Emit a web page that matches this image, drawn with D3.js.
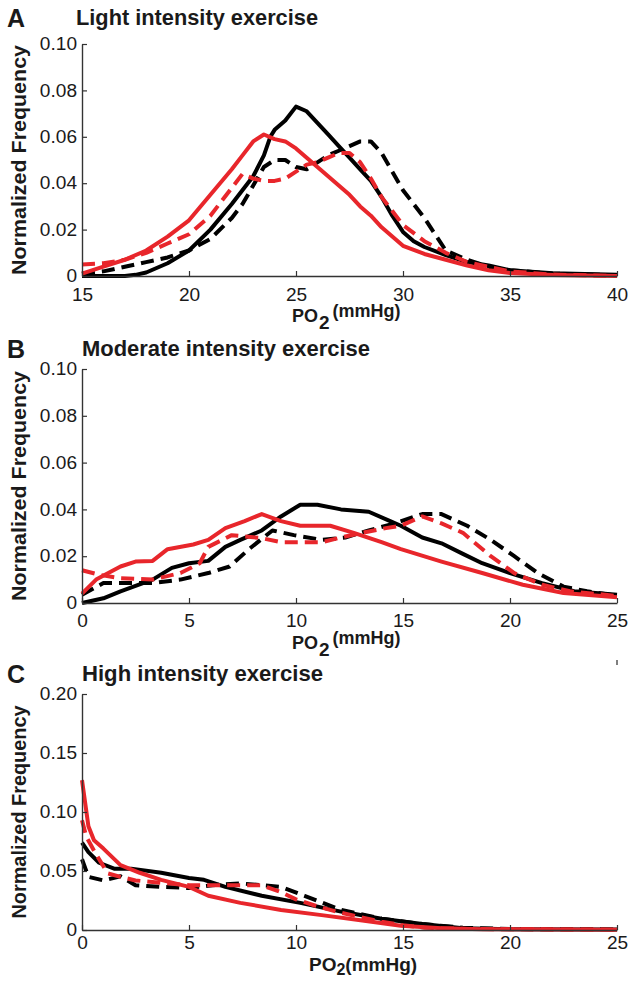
<!DOCTYPE html>
<meta charset="utf-8">
<style>
  body { margin: 0; background: #fff; }
  text { font-family: "Liberation Sans", Arial, sans-serif; fill: #1a1a1a; }
</style>
<svg width="630" height="988"></svg>
<script src="https://d3js.org/d3.v7.min.js"></script>
<script>

// ---- data ----
var lightBlackSolid = [[15,0],[17,0],[17.5,0.0005],[18,0.0015],[19,0.0055],[20,0.011],[21,0.02],[22,0.031],[23,0.043],[23.5,0.052],[23.8,0.060],[24,0.063],[24.5,0.067],[25,0.073],[25.5,0.071],[26,0.066],[26.5,0.061],[27,0.056],[27.5,0.051],[28,0.046],[28.5,0.041],[29,0.034],[29.5,0.026],[30,0.019],[30.5,0.015],[31,0.0125],[32,0.009],[33,0.006],[34,0.0045],[35,0.0025],[37,0.0012],[40,0.0005]];
var lightBlackDashed = [[15,0.001],[16,0.002],[17,0.004],[18,0.006],[19,0.008],[20,0.011],[21,0.016],[22,0.025],[22.5,0.031],[23,0.039],[23.5,0.047],[24,0.050],[24.5,0.050],[25,0.047],[25.5,0.046],[26,0.049],[26.5,0.052],[27,0.054],[27.5,0.056],[28,0.058],[28.5,0.058],[29,0.053],[29.5,0.045],[30,0.037],[30.5,0.031],[31,0.025],[31.5,0.018],[32,0.011],[33,0.007],[34,0.004],[35,0.0025],[37,0.001],[40,0.0003]];
var lightRedSolid = [[15,0.001],[16,0.004],[17,0.007],[18,0.011],[19,0.017],[20,0.024],[21,0.035],[22,0.046],[22.5,0.052],[23,0.058],[23.5,0.061],[24,0.059],[24.5,0.058],[25,0.055],[25.5,0.051],[26,0.047],[26.5,0.043],[27,0.039],[27.5,0.035],[28,0.030],[28.5,0.026],[29,0.021],[29.5,0.017],[30,0.013],[31,0.0095],[32,0.007],[33,0.0045],[34,0.0025],[35,0.0013],[37,0.0004],[40,0]];
var lightRedDashed = [[15,0.005],[16,0.0055],[17,0.007],[18,0.010],[19,0.014],[20,0.018],[21,0.026],[22,0.038],[22.5,0.044],[23,0.042],[23.5,0.041],[24,0.041],[24.5,0.042],[25,0.045],[25.5,0.048],[26,0.049],[26.5,0.051],[27,0.053],[27.5,0.053],[28,0.049],[28.5,0.042],[29,0.034],[29.5,0.028],[30,0.022],[31,0.015],[32,0.010],[33,0.006],[34,0.004],[35,0.002],[37,0.0006],[40,0]];

var modBlackSolid = [[0,0],[1,0.002],[1.8,0.005],[3.3,0.010],[4.2,0.015],[5,0.017],[5.9,0.018],[6.7,0.024],[7.4,0.027],[8.4,0.031],[9.3,0.037],[10.2,0.042],[11,0.042],[12.1,0.040],[13.4,0.039],[14.4,0.035],[14.9,0.033],[15.9,0.028],[16.8,0.0255],[17.8,0.021],[18.7,0.017],[20,0.0128],[21.5,0.0085],[23,0.005],[25,0.0035]];
var modBlackDashed = [[0,0.0035],[1,0.0085],[2,0.0085],[3.3,0.0085],[4.6,0.010],[5.9,0.0128],[6.9,0.0156],[7.8,0.023],[8.9,0.031],[9.9,0.029],[11.2,0.027],[12.3,0.028],[13.4,0.031],[14.6,0.034],[15.9,0.038],[16.8,0.038],[18,0.033],[19.1,0.027],[20.2,0.020],[21.3,0.0128],[22.5,0.007],[23.6,0.005],[25,0.003]];
var modRedSolid = [[0,0.004],[0.66,0.010],[1.8,0.0156],[2.5,0.0177],[3.3,0.018],[4,0.023],[5.2,0.025],[5.9,0.027],[6.7,0.032],[7.6,0.035],[8.4,0.038],[9.3,0.035],[10.2,0.033],[11.6,0.033],[12.7,0.030],[14,0.026],[14.9,0.023],[16.8,0.0177],[18.7,0.0128],[20.6,0.0078],[22.5,0.0043],[25,0.0025]];
var modRedDashed = [[0,0.014],[0.85,0.012],[1.8,0.0106],[3.3,0.010],[4.6,0.0128],[5.5,0.017],[5.9,0.024],[7,0.029],[8.4,0.0277],[9.3,0.026],[11.2,0.026],[12.1,0.028],[13.1,0.030],[14.2,0.032],[14.9,0.033],[15.9,0.037],[16.8,0.034],[17.8,0.030],[19.1,0.020],[20.2,0.0128],[21.5,0.0078],[22.8,0.005],[25,0.003]];

var highBlackSolid = [[0,0.074],[0.3,0.066],[0.8,0.057],[1.5,0.052],[2.3,0.052],[3.7,0.0485],[5,0.044],[5.7,0.0425],[6.7,0.0365],[8.4,0.029],[10.2,0.023],[12.1,0.0156],[14,0.0096],[15.9,0.005],[17.8,0.0015],[20,0.0007],[25,0.0005]];
var highBlackDashed = [[0,0.060],[0.3,0.045],[1,0.042],[1.8,0.0455],[2.5,0.038],[3.7,0.0365],[5,0.0356],[6.1,0.038],[7.4,0.0395],[9.3,0.0365],[10.4,0.029],[12.1,0.017],[14,0.0096],[15.9,0.005],[17.8,0.002],[20,0.0008],[25,0.0005]];
var highRedSolid = [[0,0.127],[0.3,0.088],[0.56,0.076],[1,0.069],[1.8,0.055],[2.7,0.0485],[3.7,0.0425],[5,0.0365],[5.9,0.029],[7.4,0.023],[9.3,0.017],[11.2,0.0126],[13.1,0.008],[14.9,0.0036],[16.8,0.0015],[18.7,0.0006],[25,0.0003]];
var highRedDashed = [[0,0.093],[0.2,0.079],[0.6,0.066],[1.2,0.048],[1.8,0.045],[2.5,0.042],[3.7,0.040],[5,0.038],[6.5,0.038],[8.4,0.038],[9.3,0.032],[10,0.026],[11,0.020],[12,0.015],[13,0.011],[14,0.007],[15,0.004],[16,0.002],[18,0.0008],[25,0.0003]];

var xTicksLight = [15, 20, 25, 30, 35, 40];
var xTicksLow = [0, 5, 10, 15, 20, 25];
var yTicksSmall = [0, 0.02, 0.04, 0.06, 0.08, 0.10];
var yTicksLarge = [0, 0.05, 0.10, 0.15, 0.20];

// ---- layout ----
var svg = d3.select("svg");
var left = 82, right = 617;
var red = "#e8262b";

var panels = [
  { letter: "A", title: "Light intensity exercise", titleX: 76, titleY: 25, titleLen: 242,
    top: 44, bottom: 276, xDomain: [15, 40], xTicks: xTicksLight, yMax: 0.10, yTicks: yTicksSmall,
    xPad: 12, labelY: 322, labelLen: 230, small: true,
    series: [lightBlackSolid, lightBlackDashed, lightRedDashed, lightRedSolid] },
  { letter: "B", title: "Moderate intensity exercise", titleX: 82, titleY: 356, titleLen: 288,
    top: 369, bottom: 603, xDomain: [0, 25], xTicks: xTicksLow, yMax: 0.10, yTicks: yTicksSmall,
    xPad: 11, labelY: 649, labelLen: 230, small: true,
    series: [modBlackSolid, modBlackDashed, modRedDashed, modRedSolid] },
  { letter: "C", title: "High intensity exercise", titleX: 82, titleY: 681, titleLen: 241,
    top: 694, bottom: 930, xDomain: [0, 25], xTicks: xTicksLow, yMax: 0.20, yTicks: yTicksLarge,
    xPad: 6, labelY: 971, labelLen: 213, small: false,
    series: [highBlackDashed, highBlackSolid, highRedDashed, highRedSolid] }
];

var styleOf = function(data) {
  if (data === lightBlackSolid || data === modBlackSolid || data === highBlackSolid) return { c: "#000", d: null };
  if (data === lightBlackDashed || data === modBlackDashed || data === highBlackDashed) return { c: "#000", d: "13,7" };
  if (data === lightRedSolid || data === modRedSolid || data === highRedSolid) return { c: red, d: null };
  return { c: red, d: "13,7" };
};

function stretch(sel, k) {
  sel.each(function() {
    var w = this.getComputedTextLength();
    d3.select(this).attr("textLength", w * k).attr("lengthAdjust", "spacingAndGlyphs");
  });
}

panels.forEach(function(p) {
  var x = d3.scaleLinear().domain(p.xDomain).range([left, right]);
  var y = d3.scaleLinear().domain([0, p.yMax]).range([p.bottom, p.top]);
  var g = svg.append("g");

  var line = d3.line()
    .x(function(d) { return x(d[0]); })
    .y(function(d) { return y(d[1]); });

  p.series.forEach(function(s) {
    var st = styleOf(s);
    g.append("path")
      .datum(s)
      .attr("fill", "none")
      .attr("stroke", st.c)
      .attr("stroke-width", 4)
      .attr("stroke-linejoin", "round")
      .attr("stroke-dasharray", st.d)
      .attr("d", line);
  });

  // axes, MATLAB-like inward ticks
  var xa = g.append("g")
    .attr("transform", "translate(0," + p.bottom + ")")
    .call(d3.axisBottom(x).tickValues(p.xTicks).tickSizeInner(-5).tickSizeOuter(0).tickPadding(p.xPad));
  var ya = g.append("g")
    .attr("transform", "translate(" + left + ",0)")
    .call(d3.axisLeft(y).tickValues(p.yTicks).tickSizeInner(-5).tickSizeOuter(0).tickPadding(5)
      .tickFormat(function(d) { return d === 0 ? "0" : d3.format(".2f")(d); }));

  [xa, ya].forEach(function(a) {
    a.attr("font-size", null).attr("font-family", null);
    a.select(".domain").attr("stroke", "#333").attr("stroke-width", 1.4);
    a.selectAll(".tick line").attr("stroke", "#333").attr("stroke-width", 1.2);
    a.selectAll("text").attr("fill", "#1a1a1a").style("font-size", "18px");
    stretch(a.selectAll("text"), 1.06);
  });

  // panel letter and title
  svg.append("text")
    .attr("x", 7).attr("y", p.titleY + 2)
    .attr("font-weight", "bold").style("font-size", "25px")
    .text(p.letter);
  svg.append("text")
    .attr("x", p.titleX).attr("y", p.titleY)
    .attr("font-weight", "bold").style("font-size", "21.5px")
    .attr("textLength", p.titleLen).attr("lengthAdjust", "spacingAndGlyphs")
    .text(p.title);

  // y label
  svg.append("text")
    .attr("transform", "translate(26," + (p.top + p.bottom) / 2 + ") rotate(-90)")
    .attr("text-anchor", "middle")
    .attr("font-weight", "bold").style("font-size", "20.5px")
    .attr("textLength", p.labelLen).attr("lengthAdjust", "spacingAndGlyphs")
    .text("Normalized Frequency");

  // x label
  var xl = svg.append("text")
    .attr("x", p.small ? 292 : 309).attr("y", p.labelY)
    .attr("font-weight", "bold").style("font-size", p.small ? "18px" : "19px");
  xl.append("tspan").text("PO");
  if (p.small) {
    xl.append("tspan").attr("dy", 7).attr("dx", 1).style("font-size", "19px").text("2");
    xl.append("tspan").attr("dy", -12).attr("dx", 3).style("font-size", "18px").text("(mmHg)");
  } else {
    xl.append("tspan").attr("dy", 4).style("font-size", "16px").text("2");
    xl.append("tspan").attr("dy", -4).style("font-size", "19px").text("(mmHg)");
  }
});

// stray mark above panel C right edge
svg.append("line")
  .attr("x1", right).attr("x2", right).attr("y1", 660).attr("y2", 665)
  .attr("stroke", "#555").attr("stroke-width", 1.5);

</script>
